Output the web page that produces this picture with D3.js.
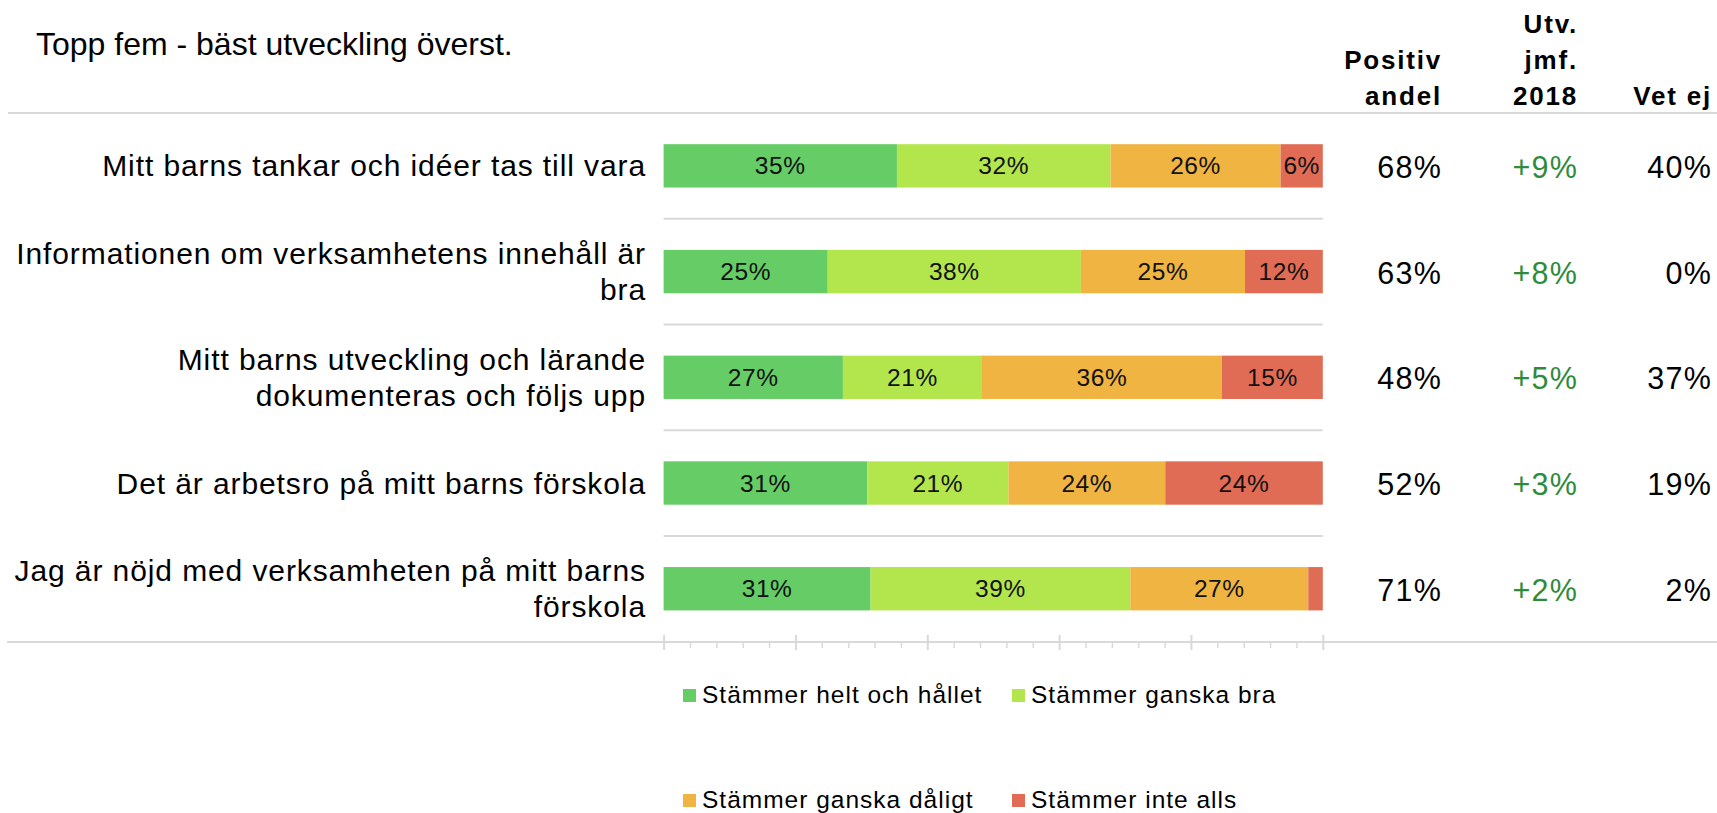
<!DOCTYPE html>
<html><head><meta charset="utf-8">
<script src="https://cdn.jsdelivr.net/npm/d3@7"></script>
<style>body{margin:0;background:#fff;overflow:hidden;} svg{display:block;font-family:"Liberation Sans",Arial,sans-serif;}</style>
</head><body><svg id="chart" width="1717" height="813"></svg>
<script>
const title = "Topp fem - bäst utveckling överst.";
const categories = [
  ["Mitt barns tankar och idéer tas till vara"],
  ["Informationen om verksamhetens innehåll är", "bra"],
  ["Mitt barns utveckling och lärande", "dokumenteras och följs upp"],
  ["Det är arbetsro på mitt barns förskola"],
  ["Jag är nöjd med verksamheten på mitt barns", "förskola"]
];
const seriesNames = ["Stämmer helt och hållet", "Stämmer ganska bra", "Stämmer ganska dåligt", "Stämmer inte alls"];
const seriesColors = ["#66cc66", "#b3e64d", "#efb441", "#e06c55"];
const helt = [35.4, 24.9, 27.2, 30.9, 31.4];
const ganskaBra = [32.4, 38.4, 21.1, 21.4, 39.4];
const ganskaDaligt = [25.8, 24.9, 36.4, 23.8, 27.0];
const inteAlls = [6.4, 11.8, 15.3, 23.9, 2.2];
const positivAndel = [68, 63, 48, 52, 71];
const utvJmf2018 = [9, 8, 5, 3, 2];
const vetEj = [40, 0, 37, 19, 2];
const columnHeaders = [["Positiv", "andel"], ["Utv.", "jmf.", "2018"], ["Vet ej"]];
const majorTicks = [0, 20, 40, 60, 80, 100];
const minorTicks = [4, 8, 12, 16, 24, 28, 32, 36, 44, 48, 52, 56, 64, 68, 72, 76, 84, 88, 92, 96];

const svg = d3.select("#chart");
const W = 1717;
const x = d3.scaleLinear().domain([0, 100]).range([663.6, 1322.8]);
const y = d3.scaleBand().domain(d3.range(categories.length)).range([113, 641.6]).paddingInner(0.59).paddingOuter(0.295);
const grid = "#d9d9d9";

const rows = categories.map((c, i) => ({ i, a: helt[i], b: ganskaBra[i], c: ganskaDaligt[i], d: inteAlls[i] }));
const keys = ["a", "b", "c", "d"];
const stack = d3.stack().keys(keys)(rows);

// title
svg.append("text").attr("x", 36).attr("y", 55).attr("font-size", 32).attr("fill", "#000").text(title);

// top full-width line
svg.append("line").attr("x1", 8).attr("x2", W).attr("y1", 113).attr("y2", 113).attr("stroke", grid).attr("stroke-width", 2);

// row separator gridlines
const seps = d3.range(1, categories.length).map(k => y.range()[0] + k * y.step());
svg.selectAll("line.sep").data(seps).join("line").attr("class", "sep")
  .attr("x1", x(0)).attr("x2", x(100)).attr("y1", d => d).attr("y2", d => d)
  .attr("stroke", grid).attr("stroke-width", 2);

// bars
const fmt = d3.format(".0f");
stack.forEach((layer, si) => {
  const g = svg.append("g");
  g.selectAll("rect").data(layer).join("rect")
    .attr("x", d => x(d[0])).attr("width", d => x(d[1]) - x(d[0]))
    .attr("y", (d, i) => y(i)).attr("height", y.bandwidth())
    .attr("fill", seriesColors[si]);
  g.selectAll("text").data(layer.filter(d => d[1] - d[0] >= 4)).join("text")
    .attr("x", d => (x(d[0]) + x(d[1])) / 2)
    .attr("y", d => y(d.data.i) + y.bandwidth() / 2)
    .attr("text-anchor", "middle").attr("dominant-baseline", "central")
    .attr("font-size", 24.5).attr("letter-spacing", 0.6).attr("fill", "#111")
    .text(d => fmt(d[1] - d[0]) + "%");
});

// category labels
const lab = svg.append("g");
categories.forEach((lines, i) => {
  const cy = y(i) + y.bandwidth() / 2;
  const lh = 36;
  const t = lab.append("text").attr("text-anchor", "end").attr("font-size", 30).attr("letter-spacing", 0.9).attr("fill", "#000");
  lines.forEach((ln, k) => {
    t.append("tspan").attr("x", 646).attr("y", cy + (k - (lines.length - 1) / 2) * lh).attr("dominant-baseline", "central").text(ln);
  });
});

// axis ticks
const axisY = 642;
svg.append("line").attr("x1", 7).attr("x2", W).attr("y1", axisY).attr("y2", axisY).attr("stroke", grid).attr("stroke-width", 2);
const majorAxis = d3.axisBottom(x).tickValues(majorTicks).tickSize(8).tickFormat("");
const gMaj = svg.append("g").attr("transform", `translate(0,${axisY})`).call(majorAxis);
gMaj.select(".domain").remove();
gMaj.selectAll(".tick line").attr("stroke", grid).attr("stroke-width", 2).attr("y1", -7);
const minorAxis = d3.axisBottom(x).tickValues(minorTicks).tickSize(6).tickFormat("");
const gMin = svg.append("g").attr("transform", `translate(0,${axisY})`).call(minorAxis);
gMin.select(".domain").remove();
gMin.selectAll(".tick line").attr("stroke", grid).attr("stroke-width", 1.5);

// column headers
const colRight = [1442, 1578, 1712];
const headerBase = 105, headerLH = 36;
columnHeaders.forEach((lines, c) => {
  lines.forEach((ln, k) => {
    svg.append("text").attr("x", colRight[c]).attr("y", headerBase - (lines.length - 1 - k) * headerLH)
      .attr("text-anchor", "end").attr("font-weight", "bold").attr("font-size", 26).attr("letter-spacing", 1.8)
      .attr("fill", "#000").text(ln);
  });
});

// column values
const colData = [
  { vals: positivAndel, f: v => v + "%", color: "#000" },
  { vals: utvJmf2018, f: v => (v > 0 ? "+" : "") + v + "%", color: "#2e8b3a" },
  { vals: vetEj, f: v => v + "%", color: "#000" }
];
colData.forEach((col, c) => {
  svg.append("g").selectAll("text").data(col.vals).join("text")
    .attr("x", colRight[c]).attr("y", (d, i) => y(i) + y.bandwidth() / 2 + 1)
    .attr("text-anchor", "end").attr("dominant-baseline", "central")
    .attr("font-size", 30.5).attr("letter-spacing", 1.2).attr("fill", col.color)
    .text(col.f);
});

// legend
const legPos = [[683, 689], [1012, 689], [683, 794], [1012, 794]];
seriesNames.forEach((name, s) => {
  const g = svg.append("g").attr("transform", `translate(${legPos[s][0]},${legPos[s][1]})`);
  g.append("rect").attr("width", 13).attr("height", 13).attr("fill", seriesColors[s]);
  g.append("text").attr("x", 19).attr("y", 13.5).attr("font-size", 24.5).attr("letter-spacing", 1).attr("fill", "#000").text(name);
});
</script>
</body></html>
